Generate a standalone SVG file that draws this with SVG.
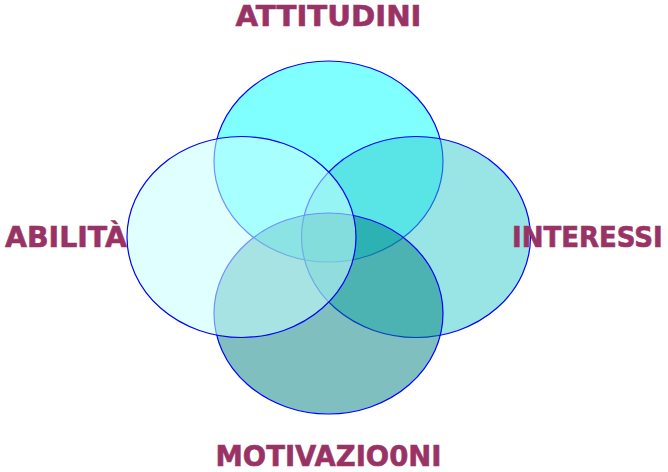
<svg xmlns="http://www.w3.org/2000/svg" width="668" height="472" viewBox="0 0 668 472">
<style>
.e{stroke:#0000FF;stroke-width:1.2}
.t{font-family:"DejaVu Sans","Liberation Sans",sans-serif;font-weight:bold;font-size:28px;fill:#993366;stroke:#993366;stroke-width:0.6}
</style>
<rect width="668" height="472" fill="#FFFFFF"/>
<g id="attitudini">
<ellipse class="e" cx="328.5" cy="161.5" rx="114.5" ry="100.5" fill="#00FFFF" fill-opacity="0.5"/>
<text class="t" x="328.5" y="26" text-anchor="middle" textLength="186" lengthAdjust="spacingAndGlyphs">ATTITUDINI</text>
</g>
<g id="interessi">
<ellipse class="e" cx="416" cy="237" rx="114.5" ry="100.5" fill="#33CCCC" fill-opacity="0.5"/>
<text class="t" transform="translate(512,247) scale(1,1.08)" x="0" y="0" style="font-size:26px">INTERESSI</text>
</g>
<g id="motivazioni">
<ellipse class="e" cx="328.5" cy="313.5" rx="114.5" ry="100.5" fill="#008080" fill-opacity="0.5"/>
<text class="t" x="328.5" y="466" text-anchor="middle" textLength="226" lengthAdjust="spacingAndGlyphs">MOTIVAZIO0NI</text>
</g>
<g id="abilita">
<ellipse class="e" cx="241.5" cy="237" rx="114.5" ry="100.5" fill="#C8FFFF" fill-opacity="0.56"/>
<text class="t" x="5" y="247" textLength="122" lengthAdjust="spacingAndGlyphs">ABILITÀ</text>
</g>
<g id="connectors"/>
</svg>
